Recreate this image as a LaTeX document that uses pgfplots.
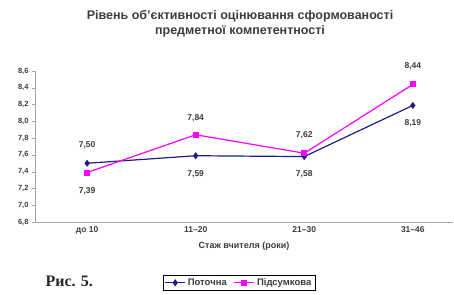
\documentclass[border=0pt]{standalone}
\usepackage{fontspec}
\setmainfont{Liberation Sans}
\newfontfamily\serifrm{Liberation Serif}
\usepackage{pgfplots}
\pgfplotsset{compat=1.18}
\definecolor{navy}{RGB}{30,30,130}
\definecolor{pinkm}{RGB}{255,0,255}
\definecolor{txt}{RGB}{60,60,60}
\begin{document}
\begin{tikzpicture}
\path[use as bounding box] (0pt,-294pt) rectangle (454pt,0pt);
\begin{axis}[
  at={(35pt,-222pt)}, anchor=south west,
  scale only axis, width=418pt, height=151pt,
  xmin=-0.48, xmax=3.37, ymin=6.8, ymax=8.6,
  axis x line=bottom, axis y line=left,
  axis line style={draw=gray!70, -},
  xtick={0,1,2,3}, xticklabels={до 10,11--20,21--30,31--46},
  major x tick style={draw=none},
  extra x ticks={0.5,1.5,2.5}, extra x tick labels={},
  extra x tick style={major tick length=4pt, tick style={draw=gray!70}, tick align=center},
  ytick={6.8,7.0,...,8.61},
  y tick style={draw=gray!70}, major tick length=3pt, ytick align=outside,
  yticklabel style={font=\fontsize{7.5}{8}\selectfont\bfseries, text=txt},
  xticklabel style={font=\fontsize{8.5}{9}\selectfont\bfseries, text=txt},
  /pgf/number format/.cd, fixed, fixed zerofill, precision=1, use comma, assume math mode=true,
  /pgfplots/.cd,
  xlabel={Стаж вчителя (роки)},
  xlabel style={font=\fontsize{9}{10}\selectfont\bfseries, text=txt, yshift=3pt},
  legend style={at={(0.306,-0.35)}, anchor=north west, draw=black, font=\fontsize{9.5}{10}\selectfont\bfseries, text=txt, inner sep=1.5pt, row sep=0pt, /tikz/every even column/.append style={column sep=5pt}},
  legend cell align=left, legend columns=2,
  legend image code/.code={\draw[#1, line width=1.2pt] (0pt,0pt) -- (20pt,0pt); \draw[#1, line width=1.2pt, mark repeat=2, mark phase=2] plot coordinates {(0pt,0pt) (10pt,0pt) (20pt,0pt)};},
  clip=false,
]
\addplot[navy, line width=1.2pt, mark=diamond*, mark size=2.6pt, mark options={fill=navy}] coordinates {(0,7.50) (1,7.59) (2,7.58) (3,8.19)};
\addlegendentry{Поточна}
\addplot[pinkm, line width=1.2pt, mark=square*, mark size=2.4pt, mark options={fill=pinkm}] coordinates {(0,7.39) (1,7.84) (2,7.62) (3,8.44)};
\addlegendentry{Підсумкова}
\begin{scope}[every node/.style={font=\fontsize{8.5}{9}\selectfont\bfseries, text=txt}]
\node at (axis cs:0,7.50) [yshift=18pt] {7,50};
\node at (axis cs:1,7.59) [yshift=-18pt] {7,59};
\node at (axis cs:2,7.58) [yshift=-18pt] {7,58};
\node at (axis cs:3,8.19) [yshift=-18pt] {8,19};
\node at (axis cs:0,7.39) [yshift=-19pt] {7,39};
\node at (axis cs:1,7.84) [yshift=17pt] {7,84};
\node at (axis cs:2,7.62) [yshift=18pt] {7,62};
\node at (axis cs:3,8.44) [yshift=18pt] {8,44};
\end{scope}
\end{axis}
\node[font=\fontsize{12.5}{15}\selectfont\bfseries, text=txt, align=center] at (240pt,-24pt) {Рівень об'єктивності оцінювання сформованості\\предметної компетентності};
\node[font=\serifrm\fontsize{16}{18}\selectfont\bfseries, anchor=west, text=black!85] at (42pt,-281pt) {Рис. 5.};
\end{tikzpicture}
\end{document}
